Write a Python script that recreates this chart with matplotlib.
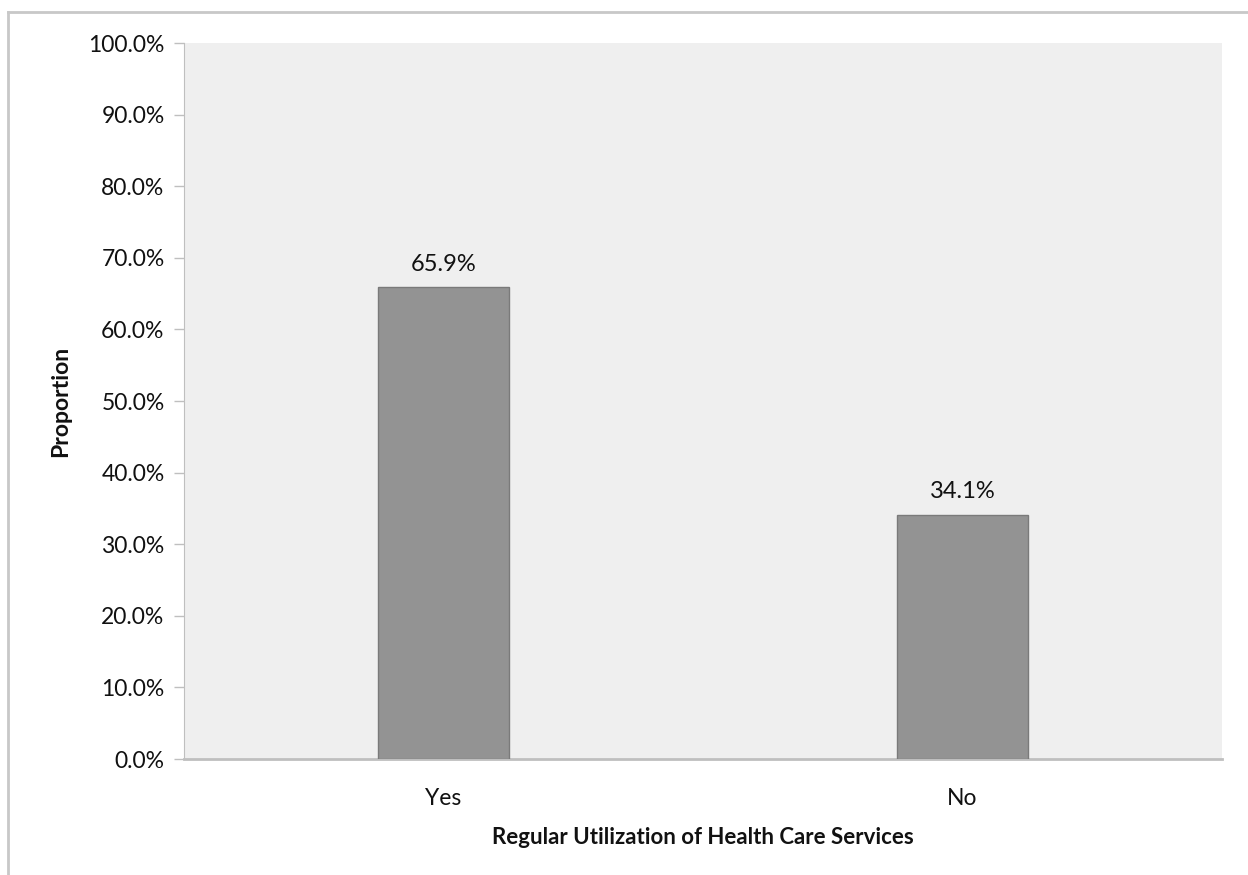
import matplotlib
matplotlib.use("Agg")
import matplotlib.pyplot as plt
from matplotlib.lines import Line2D
from matplotlib.ticker import FuncFormatter

categories = ["Yes", "No"]
values = [65.9, 34.1]
yticks = [0, 10, 20, 30, 40, 50, 60, 70, 80, 90, 100]

plt.rcParams['font.family'] = ['Lato', 'DejaVu Sans']

fig = plt.figure(figsize=(12.48, 8.75), dpi=100)
ax = fig.add_axes([184/1248, 1-759/875, (1222-184)/1248, (759-43)/875])
ax.set_facecolor('#EFEFEF')

x = list(range(len(categories)))
bars = ax.bar(x, values, width=0.254, color='#939393', edgecolor='#7A7A7A', linewidth=1, zorder=3)
for xi, v in zip(x, values):
    ax.annotate(f"{v:.1f}%", (xi, v), xytext=(0, 9), textcoords='offset points',
                ha='center', va='bottom', fontsize=17, color='#111111')

ax.set_xlim(-0.5, 1.5)
ax.set_ylim(0, 100)
ax.set_yticks(yticks)
ax.yaxis.set_major_formatter(FuncFormatter(lambda v, p: f"{v:.1f}%"))
ax.set_xticks(x)
ax.set_xticklabels(categories)
ax.tick_params(axis='x', length=0, labelsize=16.5, pad=21, colors='#111111')
ax.tick_params(axis='y', length=7, width=1, color='#BFBFBF', labelsize=16.5, pad=7, labelcolor='#111111')
for s in ['top', 'right']:
    ax.spines[s].set_visible(False)
ax.spines['left'].set_color('#BFBFBF')
ax.spines['bottom'].set_color('#BFBFBF')
ax.spines['bottom'].set_linewidth(2)

ax.set_ylabel("Proportion", fontsize=16.5, fontweight='bold', labelpad=12, color='#111111')
ax.set_xlabel("Regular Utilization of Health Care Services", fontsize=16, fontweight='bold', labelpad=13, color='#111111')

# outer frame (cropped)
fig.add_artist(Line2D([8/1248, 1], [1-12/875, 1-12/875], transform=fig.transFigure, color='#C8C8C8', lw=2))
fig.add_artist(Line2D([8/1248, 8/1248], [0, 1-12/875], transform=fig.transFigure, color='#C8C8C8', lw=2))

fig.savefig("out.png", dpi=100, facecolor='white')
